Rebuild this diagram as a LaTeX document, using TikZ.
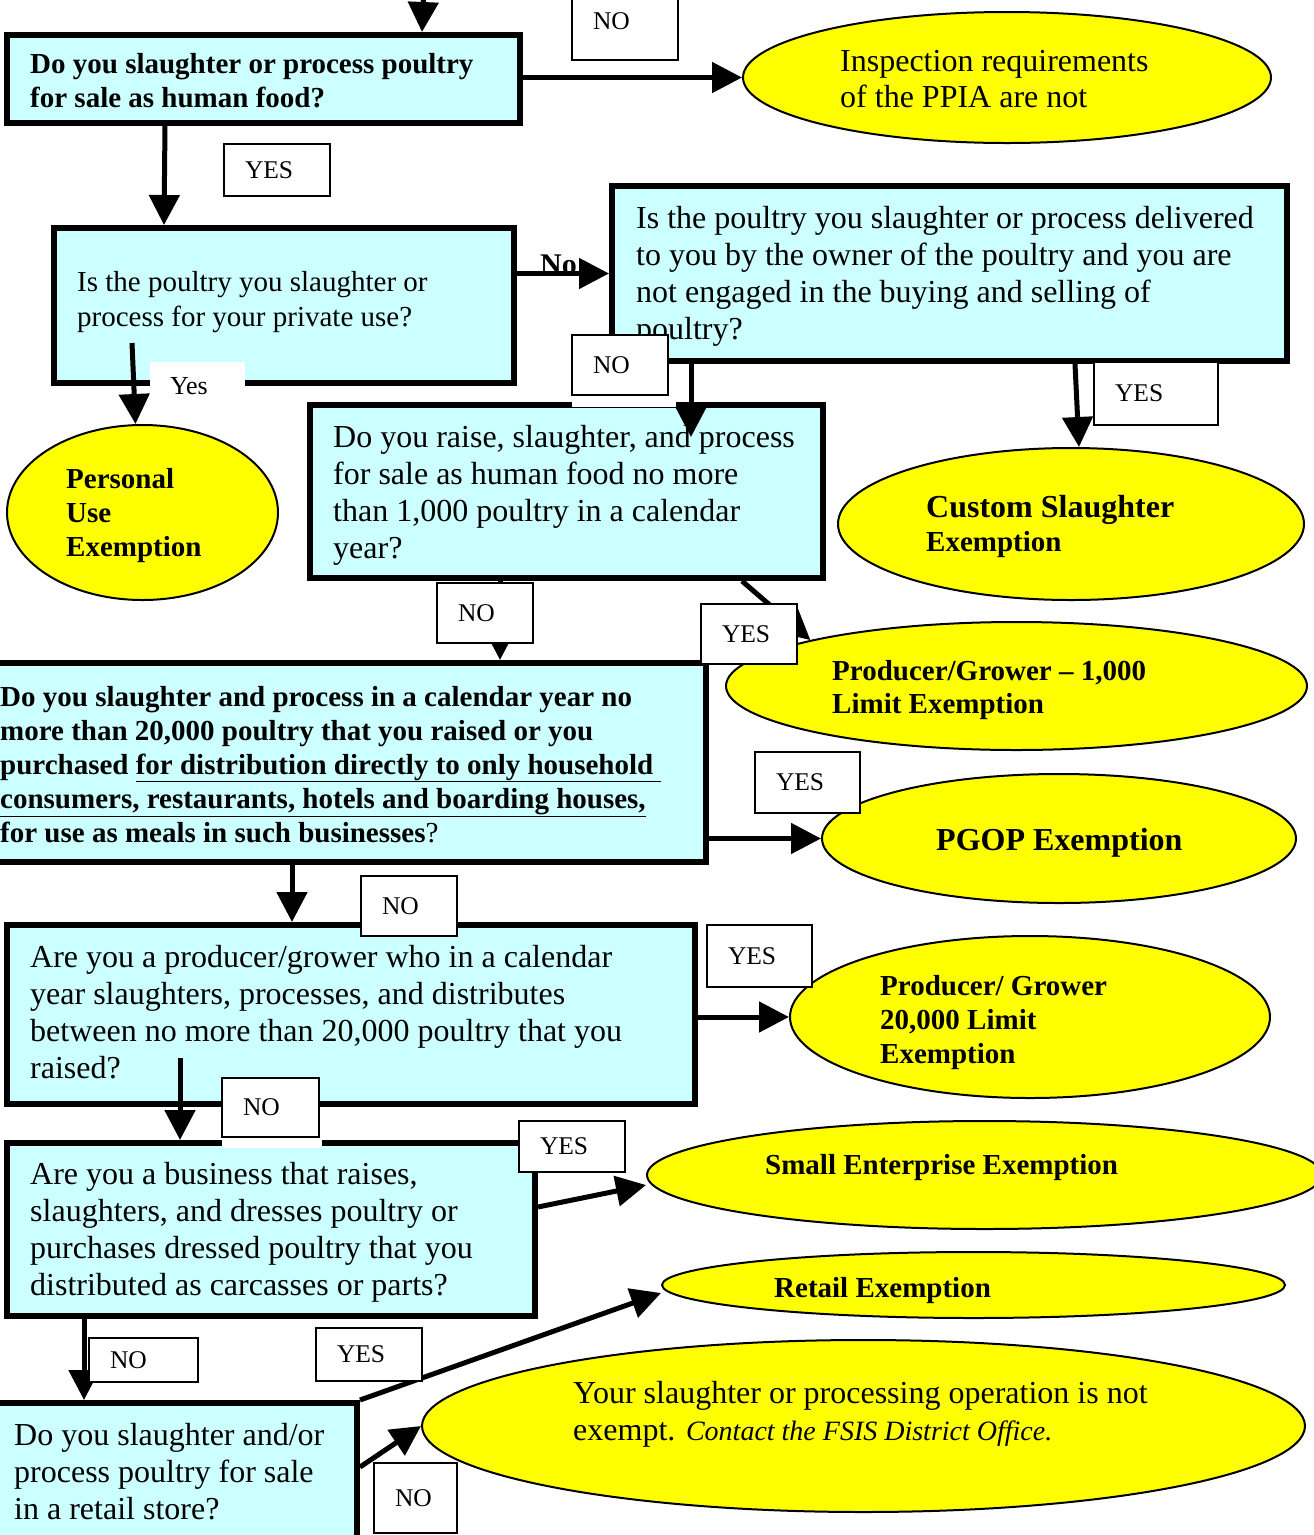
\documentclass[tikz,border=0pt]{standalone}
\usepackage{fontspec}
\setmainfont{Liberation Serif}
\usetikzlibrary{arrows.meta,shapes.geometric}
\definecolor{boxcyan}{HTML}{CCFFFF}
\definecolor{exyellow}{HTML}{FFFF00}
\newcommand{\plainq}{\fontsize{29}{35}\selectfont}
\newcommand{\largeq}{\fontsize{32}{37}\selectfont}
\newcommand{\boldq}{\fontsize{29}{34}\selectfont\bfseries}
\tikzstyle{question}=[rectangle,draw,line width=6pt,fill=boxcyan,inner sep=0pt]
\tikzstyle{exemption}=[ellipse,draw,line width=2pt,fill=exyellow,inner sep=0pt]
\tikzstyle{answer}=[rectangle,draw,line width=1.5pt,fill=white,inner ysep=0pt,inner xsep=21pt,align=left,font=\fontsize{25.5}{30}\selectfont]
\tikzstyle{blank}=[rectangle,fill=white,inner sep=0pt]
\tikzstyle{txt}=[anchor=base west,inner sep=0pt,align=left]
\tikzstyle{edge}=[-{Triangle[length=30pt,width=30pt]},line width=5pt,draw]

\begin{document}
\begin{tikzpicture}[x=1pt,y=-1pt]
        \useasboundingbox (0,0) rectangle (1314,1535);

        \node [question,minimum width=513pt,minimum height=88pt] (q1) at (263.5,79) {};
        \node [question,minimum width=460pt,minimum height=155pt] (q2) at (284,305.5) {};
        \node [question,minimum width=675pt,minimum height=175pt] (q3) at (949.5,273.5) {};
        \node [question,minimum width=513pt,minimum height=173pt] (q4) at (566.5,491.5) {};
        \node [question,minimum width=711pt,minimum height=199pt] (q5) at (350.5,762.5) {};
        \node [question,minimum width=688pt,minimum height=179pt] (q6) at (351,1014.5) {};
        \node [question,minimum width=528pt,minimum height=173pt] (q7) at (271,1229.5) {};
        \node [question,minimum width=362pt,minimum height=157pt] (q8) at (176,1481.5) {};

        \node [exemption,minimum width=528pt,minimum height=131pt] (insp) at (1007,77.5) {};
        \node [exemption,minimum width=271pt,minimum height=175pt] (personal) at (142.5,512.5) {};
        \node [exemption,minimum width=466pt,minimum height=152pt] (custom) at (1071,524) {};
        \node [exemption,minimum width=581pt,minimum height=128pt] (thousand) at (1016.5,686) {};
        \node [exemption,minimum width=474pt,minimum height=129pt] (pgop) at (1059,838.5) {};
        \node [exemption,minimum width=480pt,minimum height=162pt] (twenty) at (1030,1017) {};
        \node [exemption,minimum width=675pt,minimum height=108pt] (small) at (984.5,1175) {};
        \node [exemption,minimum width=623pt,minimum height=66pt] (retail) at (973.5,1285) {};
        \node [exemption,minimum width=883pt,minimum height=172pt] (notex) at (863.5,1426) {};

        \node [txt,font=\boldq] (q1t) at (30,107) {Do you slaughter or process poultry\\for sale as human food?};
        \node [txt,font=\plainq] (q2t) at (77,326) {Is the poultry you slaughter or\\process for your private use?};
        \node [txt,font=\largeq] (q3t) at (636,339) {Is the poultry you slaughter or process delivered\\to you by the owner of the poultry and you are\\not engaged in the buying and selling of\\poultry?};
        \node [txt,font=\largeq] (q4t) at (333,558) {Do you raise, slaughter, and process\\for sale as human food no more\\than 1,000 poultry in a calendar\\year?};
        \node [txt,font=\boldq] (q5t) at (0,842) {Do you slaughter and process in a calendar year no\\more than 20,000 poultry that you raised or you\\purchased \underline{for distribution directly to only household\ }\\\underline{consumers, restaurants, hotels and boarding houses,}\\for use as meals in such businesses{\mdseries ?}};
        \node [txt,font=\largeq] (q6t) at (30,1078) {Are you a producer/grower who in a calendar\\year slaughters, processes, and distributes\\between no more than 20,000 poultry that you\\raised?};
        \node [txt,font=\largeq] (q7t) at (30,1295) {Are you a business that raises,\\slaughters, and dresses poultry or\\purchases dressed poultry that you\\distributed as carcasses or parts?};
        \node [txt,font=\largeq] (q8t) at (14,1519) {Do you slaughter and/or\\process poultry for sale\\in a retail store?};

        \node [txt,font=\fontsize{32}{36}\selectfont] (inspt) at (840,107) {Inspection requirements\\of the PPIA are not};
        \node [txt,font=\boldq] (personalt) at (66,556) {Personal\\Use\\Exemption};
        \node [txt,font=\boldq] (customt) at (926,551) {{\fontsize{32}{34}\selectfont Custom Slaughter}\\Exemption};
        \node [txt,font=\fontsize{29}{33}\selectfont\bfseries] (thousandt) at (832,713) {Producer/Grower -- 1,000\\Limit Exemption};
        \node [txt,font=\fontsize{32}{37}\selectfont\bfseries] (pgopt) at (936,850) {PGOP Exemption};
        \node [txt,font=\boldq] (twentyt) at (880,1063) {Producer/ Grower\\20,000 Limit\\Exemption};
        \node [txt,font=\boldq] (smallt) at (765,1174) {Small Enterprise Exemption};
        \node [txt,font=\boldq] (retailt) at (774,1297) {Retail Exemption};
        \node [txt,font=\largeq] (notext) at (573,1440) {Your slaughter or processing operation is not\\exempt. {\fontsize{28}{37}\selectfont\itshape Contact the FSIS District Office.}};

        \coordinate (entry) at (425,-40);
        \path [edge] (entry) -- ([xshift=418pt]q1.north west);
        \path [edge] (q1.east |- insp.west) -- (insp.west);
        \path [edge] ([xshift=161pt]q1.south west) -- ([xshift=113pt]q2.north west);
        \path [edge] (q2.east |- q3.west) -- (q3.west);
        \path [edge] ([xshift=81pt,yshift=43pt]q2.south west) -- ([xshift=-7pt]personal.north);
        \path [edge] ([xshift=82pt]q3.south west) -- ([xshift=384pt,yshift=-35pt]q4.north west);
        \path [edge] ([xshift=466pt]q3.south west) -- ([xshift=8pt]custom.north);
        \path [edge] ([xshift=193pt]q4.south west) -- ([xshift=508pt]q5.north west);
        \path [edge] ([xshift=435pt]q4.south west) -- (thousand.north west);
        \path [edge] (q5.east |- pgop.west) -- (pgop.west);
        \path [edge] ([xshift=300pt]q5.south west) -- ([xshift=288pt]q6.north west);
        \path [edge] (q6.east |- twenty.west) -- (twenty.west);
        \path [edge] ([xshift=176pt,yshift=49pt]q6.south west) -- ([xshift=176pt]q7.north west);
        \path [edge] ([yshift=22.5pt]q7.east) -- ([yshift=-10pt]small.west);
        \path [edge] ([xshift=80pt]q7.south west) -- ([xshift=92pt]q8.north west);
        \path [edge] (q8.north east) -- ([yshift=-8pt]retail.west);
        \path [edge] ([yshift=14.5pt]q8.east) -- (notex.west);

        \node [txt,font=\fontsize{30}{34}\selectfont\bfseries] (no) at (540,274) {No};

        \node [answer,text width=64pt,minimum height=78pt] (a1) at (625,21) {NO};
        \node [answer,text width=64pt,minimum height=52pt] (a2) at (277,170) {YES};
        \node [blank,inner xsep=20pt,text width=55pt,align=left,minimum height=48pt,font=\fontsize{26}{30}\selectfont] (a3) at (197.5,386) {Yes};
        \node [blank,minimum width=104pt,minimum height=12pt] (gap1) at (624,401) {};
        \node [answer,text width=54pt,minimum height=60pt] (a4) at (620,365) {NO};
        \node [answer,text width=82pt,minimum height=63pt] (a5) at (1156,393.5) {YES};
        \node [answer,text width=54pt,minimum height=60pt] (a6) at (485,613) {NO};
        \node [answer,text width=54pt,minimum height=60pt] (a7) at (749,634) {YES};
        \node [answer,text width=63pt,minimum height=61pt] (a8) at (807.5,782.5) {YES};
        \node [answer,text width=54pt,minimum height=60pt] (a9) at (409,906) {NO};
        \node [answer,text width=63pt,minimum height=62pt] (a10) at (759.5,956) {YES};
        \node [blank,minimum width=100pt,minimum height=10pt] (gap2) at (272,1143) {};
        \node [answer,text width=55pt,minimum height=59pt] (a11) at (270.5,1107.5) {NO};
        \node [answer,text width=64pt,minimum height=51pt] (a12) at (572,1146.5) {YES};
        \node [answer,text width=67pt,minimum height=44pt] (a13) at (143.5,1360) {NO};
        \node [answer,text width=64pt,minimum height=53pt] (a14) at (369,1354.5) {YES};
        \node [answer,text width=41pt,minimum height=70pt] (a15) at (415.5,1498) {NO};
      \end{tikzpicture}
\end{document}
